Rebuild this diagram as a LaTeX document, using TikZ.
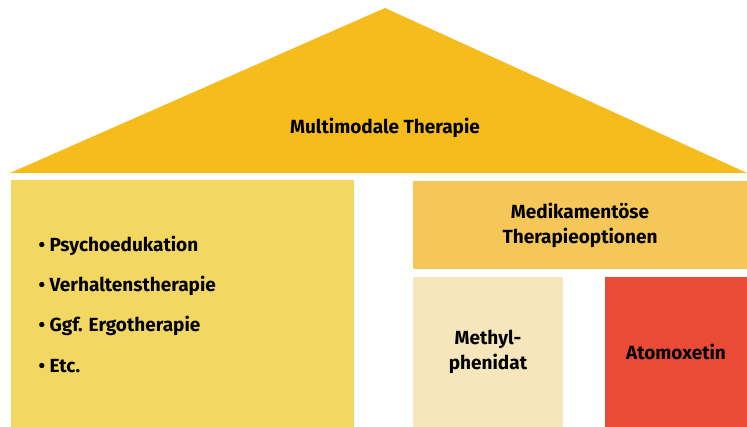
\documentclass[tikz,border=0pt]{standalone}
\usepackage{fontspec}
\setmainfont{Fira Sans}
\usetikzlibrary{positioning}

\definecolor{roofcol}{HTML}{F6BC1B}
\definecolor{leftcol}{HTML}{F2D862}
\definecolor{medcol}{HTML}{F4C758}
\definecolor{methcol}{HTML}{F6E6BC}
\definecolor{atocol}{HTML}{E94B37}

\tikzset{
  block/.style={inner sep=0pt, outer sep=0pt, anchor=north west, align=center,
    font=\fontsize{19}{25}\selectfont\bfseries},
  label/.style={font=\fontsize{19}{25}\selectfont\bfseries},
}

\begin{document}
\begin{tikzpicture}[x=1pt,y=1pt]
    \useasboundingbox (0,0) rectangle (747,-427);

    % Dach
    \fill[roofcol] (10,-173) -- (385,-8) -- (747,-173) -- cycle;
    \node[label] (roof) at (385,-128) {Multimodale Therapie};

    % linke Saeule
    \node[block, fill=leftcol, minimum width=343pt, minimum height=247pt] (nonmed) at (11,-180) {};
    \foreach \txt [count=\i] in {Psychoedukation, Verhaltenstherapie, Ggf. Ergotherapie, Etc.}
        \node[label, anchor=west] (item\i) at (35,-246-40*\i+40) {• \txt};

    % rechte Seite
    \node[block, fill=medcol, minimum width=334pt, minimum height=88pt] (med) at (413,-181) {Medikamentöse\\Therapieoptionen};
    \node[block, fill=methcol, minimum width=150pt, minimum height=150pt] (meth) at (413,-277) {Methyl-\\phenidat};
    \node[block, fill=atocol, minimum width=142pt, minimum height=150pt] (ato) at (605,-277) {Atomoxetin};
\end{tikzpicture}
\end{document}
